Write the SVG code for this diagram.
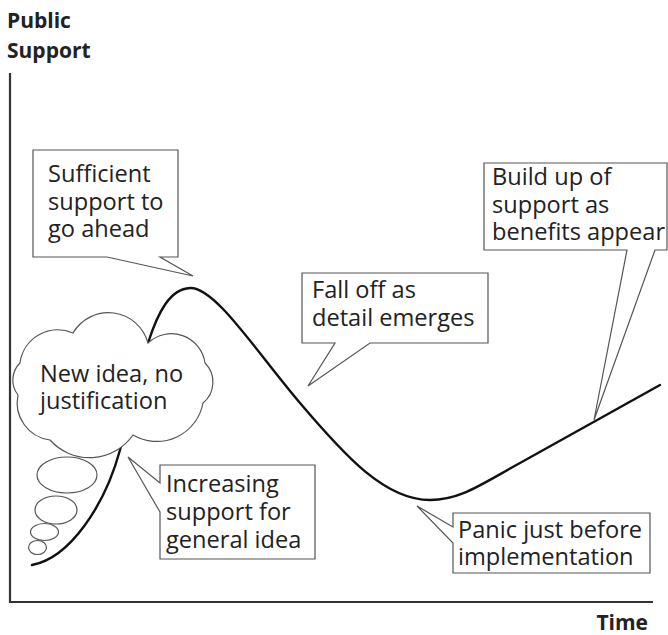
<svg xmlns="http://www.w3.org/2000/svg" width="668" height="635" viewBox="0 0 668 635">
<style>
.lbl{font-family:"Open Sans","Noto Sans","Liberation Sans",sans-serif;font-size:23.6px;fill:#222}
.ax{font-family:"Open Sans","Noto Sans","Liberation Sans",sans-serif;font-size:21px;font-weight:bold;fill:#222}
.box{fill:#fff;stroke:#555;stroke-width:1.2;stroke-linejoin:miter}
.bub{fill:#fff;stroke:#555;stroke-width:1.2}
.axis{stroke:#333;stroke-width:2.2;fill:none}
.curve{stroke:#111;stroke-width:2.4;fill:none;stroke-linecap:round}
</style>
<rect width="668" height="635" fill="#fff"/>
<g id="axes">
<path class="axis" d="M10,73 V602 H653"/>
<text class="ax" x="7" y="28">Public</text>
<text class="ax" x="7" y="58">Support</text>
<text class="ax" x="648" y="630" text-anchor="end">Time</text>
</g>
<g id="connectors">
<path class="curve" d="M32,565 C70,558 105,505 120,450 C128,420 140,370 148,343 C158,312 170,289 190,288 C215,287 255,350 300,403 C345,456 385,500 430,500 C460,500 480,485 520,463 L660,385"/>
</g>
<g id="cloud">
<path class="bub" d="M20,363 A38,38 0 0 1 73,333 A41,41 0 0 1 148,343 A34,34 0 0 1 205,363 A27,27 0 0 1 203,403 A47,47 0 0 1 133,435 A53,53 0 0 1 50,440 A37.5,37.5 0 0 1 18,395 A24,24 0 0 1 20,363 Z"/>
<ellipse class="bub" cx="67" cy="475" rx="30" ry="18"/>
<ellipse class="bub" cx="56" cy="510" rx="21" ry="14"/>
<ellipse class="bub" cx="44.5" cy="532" rx="14" ry="8.5"/>
<ellipse class="bub" cx="37.5" cy="547.5" rx="9" ry="7"/>
<text class="lbl" x="40" y="382">New idea, no</text>
<text class="lbl" x="40" y="409">justification</text>
</g>
<g id="sufficient">
<path class="box" d="M33,150 H178 V257 H160 L193,276 L107,257 H33 Z"/>
<text class="lbl" x="48" y="182">Sufficient</text>
<text class="lbl" x="48" y="210">support to</text>
<text class="lbl" x="48" y="237">go ahead</text>
</g>
<g id="falloff">
<path class="box" d="M302,273 H488 V343 H370 L308,386 L335,343 H302 Z"/>
<text class="lbl" x="312" y="298">Fall off as</text>
<text class="lbl" x="312" y="326">detail emerges</text>
</g>
<g id="buildup">
<path class="box" d="M484,163 H667 V250 H655 L594,420 L627,250 H484 Z"/>
<text class="lbl" x="492" y="185">Build up of</text>
<text class="lbl" x="492" y="213">support as</text>
<text class="lbl" x="492" y="240">benefits appear</text>
</g>
<g id="increasing">
<path class="box" d="M160,465 H315 V559 H160 V512 L128,457 L160,483 Z"/>
<text class="lbl" x="166" y="492">Increasing</text>
<text class="lbl" x="166" y="520">support for</text>
<text class="lbl" x="166" y="548">general idea</text>
</g>
<g id="panic">
<path class="box" d="M453,513 H650 V573 H453 V543 L417,506 L453,527 Z"/>
<text class="lbl" x="458" y="538">Panic just before</text>
<text class="lbl" x="458" y="565">implementation</text>
</g>
</svg>
